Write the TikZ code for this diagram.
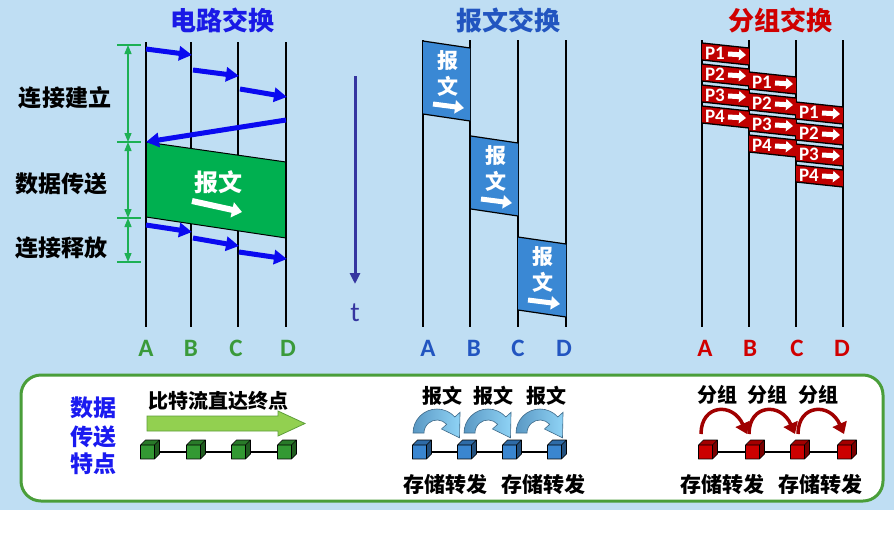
\documentclass[tikz,border=0pt]{standalone}
\usepackage{fontspec}
\newfontfamily\cjk{Noto Sans CJK SC}
\newfontfamily\lat{Carlito}
\usetikzlibrary{arrows.meta,calc}
\definecolor{bgblue}{HTML}{BFDEF3}
\definecolor{cirblue}{HTML}{0A0AF0}
\definecolor{titblue}{HTML}{1A1AE6}
\definecolor{msgblue}{HTML}{2255C0}
\definecolor{boxblue}{HTML}{3A88D4}
\definecolor{pktred}{HTML}{C00000}
\definecolor{labred}{HTML}{D00000}
\definecolor{labgreen}{HTML}{3A9A3A}
\definecolor{gbox}{HTML}{00B050}
\definecolor{tickgreen}{HTML}{1DB054}
\definecolor{tcol}{HTML}{3535A0}
\definecolor{framecol}{HTML}{4A9E3A}
\definecolor{lgarrow}{HTML}{92D050}
\definecolor{lgarrowd}{HTML}{5E9E3A}
\definecolor{cubegreen}{HTML}{339933}
\definecolor{cubeblue}{HTML}{3A86D0}
\definecolor{cubered}{HTML}{CC0000}
\definecolor{darkred}{HTML}{A00000}
\definecolor{arcl}{HTML}{8FD3F5}
\definecolor{arcd}{HTML}{5A98C4}
\definecolor{featblue}{HTML}{1A1AF0}
\tikzset{
  vline/.style={line width=2.3pt,black},
  cjkb/.style={font=\cjk\bfseries\fontsize{#1}{#1}\selectfont, inner sep=0pt},
  latb/.style={font=\lat\bfseries\fontsize{#1}{#1}\selectfont, inner sep=0pt},
  barrow/.style={line width=5pt,cirblue,-{Triangle[length=13pt,width=14pt]}},
  garrow/.style={tickgreen,line width=1.3pt,{Triangle[length=9pt,width=7pt]}-{Triangle[length=9pt,width=7pt]}},
  gtick/.style={tickgreen,line width=1.5pt},
  warrow/.style={white,line width=5pt,-{Triangle[length=9pt,width=13pt]}},
  parrow/.style={white,line width=5pt,-{Triangle[length=7pt,width=11pt]}},
  redarc/.style={darkred,line width=3.5pt,-{Triangle[length=11pt,width=15pt]}},
  pics/cube/.style={code={
    \fill[#1] (-9.5,-4) rectangle (4.5,10);
    \fill[#1!80!black] (-9.5,-4) -- (-4.5,-9) -- (9.5,-9) -- (4.5,-4) -- cycle;
    \fill[#1!60!black] (4.5,-4) -- (9.5,-9) -- (9.5,5) -- (4.5,10) -- cycle;
    \draw[black,line width=0.6pt,line join=round] (-9.5,-4) rectangle (4.5,10)
      (-9.5,-4) -- (-4.5,-9) -- (9.5,-9) -- (9.5,5) -- (4.5,10) (4.5,-4) -- (9.5,-9);
  }},
}
\begin{document}
\begin{tikzpicture}[x=1pt,y=-1pt]
\fill[white] (0,0) rectangle (894,547);
\fill[bgblue] (0,0) rectangle (894,510);
\useasboundingbox (0,0) rectangle (894,547);

% titles
\node[cjkb=26, text=titblue] (t1) at (222,20) {电路交换};
\node[cjkb=26, text=msgblue] (t2) at (508,20) {报文交换};
\node[cjkb=26, text=labred] (t3) at (780,20) {分组交换};

% ---------- circuit switching ----------
\foreach \n/\x in {A/146,B/191,C/238,D/286}{
  \coordinate (c\n t) at (\x,42);
  \coordinate (c\n b) at (\x,327);
  \draw[vline] (c\n t) -- (c\n b);
}
\coordinate (g1) at (146,142); \coordinate (g2) at (286,162);
\coordinate (g3) at (286,238); \coordinate (g4) at (146,217);
\fill[gbox] (g1) -- (g2) -- (g3) -- (g4) -- cycle;
\draw[black,line width=1pt] (g1) -- (g2) (g4) -- (g3);
\draw[vline] (g1) -- (g4) (g2) -- (g3);
\node[cjkb=24,text=white] (gtext) at (218,182) {报文};
\coordinate (gw1) at (192,201); \coordinate (gw2) at (242,212);
\draw[white,line width=6pt,-{Triangle[length=10pt,width=15pt]}] (gw1) -- (gw2);

\foreach \i/\xa/\ya/\xb/\yb in {1/146/49/192/55, 2/193/70/239/76, 3/240/89/287/97,
    4/146/225/192/232, 5/193/238/239/246, 6/239/252/287/259}{
  \coordinate (bs\i) at (\xa,\ya); \coordinate (be\i) at (\xb,\yb);
  \draw[barrow] (bs\i) -- (be\i);
}
\coordinate (rs) at (286,120); \coordinate (re) at (146,142);
\draw[barrow] (rs) -- (re);

% green ticks and brackets
\foreach \k/\y in {1/45,2/142,3/218,4/262}{
  \coordinate (tl\k) at (117,\y); \coordinate (tr\k) at (141,\y);
  \coordinate (tm\k) at (128,\y);
  \draw[gtick] (tl\k) -- (tr\k);
}
\draw[garrow] (tm1) -- (tm2);
\draw[garrow] (tm2) -- (tm3);
\draw[garrow] (tm3) -- (tm4);
\node[cjkb=23] (l1) at (65,98) {连接建立};
\node[cjkb=23] (l2) at (62,184) {数据传送};
\node[cjkb=23] (l3) at (62,248) {连接释放};

% ---------- time arrow ----------
\coordinate (ts) at (355,76); \coordinate (te) at (355,284);
\draw[tcol,line width=3pt,-{Triangle[length=11pt,width=10pt]}] (ts) -- (te);
\node[font=\lat\fontsize{28}{28}\selectfont,text=tcol,inner sep=0pt] (tlab) at (355,313) {t};

% ---------- message switching ----------
\foreach \n/\x in {A/423,B/470,C/518,D/566}{
  \coordinate (m\n t) at (\x,40);
  \coordinate (m\n b) at (\x,327);
  \draw[vline] (m\n t) -- (m\n b);
}
\foreach \k/\xa/\xb/\y in {1/423/470/41, 2/471/518/136, 3/518/566/237}{
  \coordinate (mb\k a) at (\xa,\y);
  \coordinate (mb\k b) at (\xb,\y+7);
  \coordinate (mb\k c) at (\xb,\y+80);
  \coordinate (mb\k d) at (\xa,\y+73);
  \fill[boxblue] (mb\k a) -- (mb\k b) -- (mb\k c) -- (mb\k d) -- cycle;
  \draw[black,line width=1.2pt] (mb\k a) -- (mb\k b) (mb\k d) -- (mb\k c);
  \node[cjkb=21,text=white] (mbt\k) at ({(\xa+\xb)/2+1},\y+20) {报};
  \node[cjkb=21,text=white] (mbu\k) at ({(\xa+\xb)/2+1},\y+45) {文};
  \coordinate (mw\k a) at (\xa+10,\y+63);
  \coordinate (mw\k b) at (\xb-6,\y+67);
  \draw[warrow] (mw\k a) -- (mw\k b);
}

% ---------- packet switching ----------
\foreach \n/\x in {A/702,B/749,C/796,D/843}{
  \coordinate (p\n t) at (\x,40);
  \coordinate (p\n b) at (\x,327);
  \draw[vline] (p\n t) -- (p\n b);
}
\foreach \c/\xl/\off in {1/702/0, 2/749/29, 3/796/59}{
  \foreach \i in {1,2,3,4}{
    \pgfmathsetmacro{\yt}{43+21*(\i-1)+\off}
    \coordinate (pk\c\i a) at (\xl,\yt);
    \coordinate (pk\c\i b) at (\xl+47,\yt+5);
    \coordinate (pk\c\i c) at (\xl+47,\yt+22);
    \coordinate (pk\c\i d) at (\xl,\yt+17);
    \fill[pktred] (pk\c\i a) -- (pk\c\i b) -- (pk\c\i c) -- (pk\c\i d) -- cycle;
    \draw[black,line width=1.3pt] (pk\c\i a) -- (pk\c\i b) (pk\c\i d) -- (pk\c\i c);
    \node[latb=19,text=white] (pkt\c\i) at (\xl+13,\yt+10) {P\i};
    \coordinate (pw\c\i a) at (\xl+26,\yt+11);
    \coordinate (pw\c\i b) at (\xl+44,\yt+12);
    \draw[parrow] (pw\c\i a) -- (pw\c\i b);
  }
}

% ---------- A B C D labels ----------
\foreach \n/\x in {A/146,B/191,C/236,D/288}{
  \node[latb=25,text=labgreen] (la\n) at (\x,348) {\n};
}
\foreach \n/\x in {A/428,B/474,C/518,D/564}{
  \node[latb=25,text=msgblue] (lb\n) at (\x,348) {\n};
}
\foreach \n/\x in {A/705,B/750,C/797,D/842}{
  \node[latb=25,text=labred] (lc\n) at (\x,348) {\n};
}

% ---------- bottom frame ----------
\draw[framecol,line width=3pt,fill=white,rounded corners=20pt] (21,375) rectangle (883,501);
\node[cjkb=23,text=featblue] (f1) at (93,408) {数据};
\node[cjkb=23,text=featblue] (f2) at (93,437) {传送};
\node[cjkb=23,text=featblue] (f3) at (93,464) {特点};

% circuit: bit stream
\node[cjkb=20] (bs) at (218,401) {比特流直达终点};
\fill[lgarrow,draw=lgarrowd,line width=0.8pt] (147,416) -- (278,416) -- (278,411) -- (305,423.5)
  -- (278,436) -- (278,431) -- (147,431) -- cycle;
\coordinate (gc1) at (150,449); \coordinate (gc4) at (287,449);
\draw[black,line width=1.2pt] ($(gc1)+(0,3)$) -- ($(gc4)+(0,3)$);
\foreach \x in {150,196,241,287}{ \pic at (\x,449) {cube=cubegreen}; }

% message: store and forward
\coordinate (mc1) at (422,449); \coordinate (mc4) at (557,449);
\draw[black,line width=1.2pt] ($(mc1)+(0,3)$) -- ($(mc4)+(0,3)$);
\foreach \x in {422,467,512,557}{ \pic at (\x,449) {cube=cubeblue}; }
\foreach \k/\cx in {1/437,2/488,3/540}{
  \coordinate (ac\k) at (\cx,433);
  \shade[left color=arcd,right color=arcl,draw=arcd!70!black,line width=0.6pt]
    ($(ac\k)+(180:24)$) arc[start angle=180,end angle=318,radius=24]
    -- ($(ac\k)+(318:31)$) -- ($(ac\k)+(12:23)$) -- ($(ac\k)+(318:6)$)
    -- ($(ac\k)+(318:13)$) arc[start angle=318,end angle=180,radius=13] -- cycle;
}
\node[cjkb=20] (mm1) at (442,396) {报文};
\node[cjkb=20] (mm2) at (493,396) {报文};
\node[cjkb=20] (mm3) at (546,396) {报文};
\node[cjkb=21] (ms1) at (445,484) {存储转发};
\node[cjkb=21] (ms2) at (543,484) {存储转发};

% packet: store and forward
\coordinate (rc1) at (708,449); \coordinate (rc4) at (847,449);
\draw[black,line width=1.2pt] ($(rc1)+(0,3)$) -- ($(rc4)+(0,3)$);
\foreach \x in {708,755,800,847}{ \pic at (\x,449) {cube=cubered}; }
\foreach \k/\xs in {1/701,2/749,3/798}{
  \coordinate (ra\k) at (\xs,434);
  \coordinate (rb\k) at (\xs+46,434);
  \draw[redarc] (ra\k) .. controls ($(ra\k)+(0,-30)$) and ($(rb\k)+(-14,-32)$) .. (rb\k);
}
\node[cjkb=20] (pp1) at (717,395) {分组};
\node[cjkb=20] (pp2) at (767,395) {分组};
\node[cjkb=20] (pp3) at (818,395) {分组};
\node[cjkb=21] (ps1) at (722,484) {存储转发};
\node[cjkb=21] (ps2) at (820,484) {存储转发};
\end{tikzpicture}
\end{document}
